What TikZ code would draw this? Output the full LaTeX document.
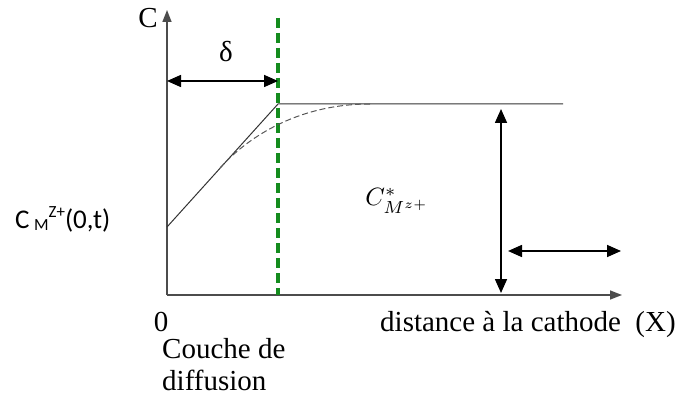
\documentclass[tikz,border=0pt]{standalone}
\usepackage{fontspec}
\setmainfont{Liberation Serif}
\newfontfamily\calibri{Carlito}
\usetikzlibrary{arrows.meta}
\definecolor{layergreen}{RGB}{20,140,30}
\tikzset{
	axis/.style={draw=black!70, line width=1.6pt},
	tip/.style={-{Triangle[length=12pt,width=9pt]}},
	twotip/.style={{Triangle[length=14pt,width=12pt]}-{Triangle[length=14pt,width=12pt]}, draw=black, line width=1.6pt},
	layer/.style={draw=layergreen, line width=3.4pt, dash pattern=on 10pt off 5pt},
	profile/.style={draw=black!80, line width=1pt},
	real/.style={draw=black!65, line width=1pt, dash pattern=on 6pt off 3pt},
	label/.style={font=\fontsize{29}{32}\selectfont, inner sep=0pt}
}

\begin{document}
\begin{tikzpicture}[x=1pt, y=-1pt]
	\useasboundingbox (0,0) rectangle (677,398);
	% --- axes ---
	\coordinate (O) at (167,295);
	\coordinate (ytip) at (167,10);
	\coordinate (xtip) at (622,295);
	\draw[axis, tip] (O) -- (ytip);
	\draw[axis, tip] (O) -- (xtip);
	\node[label] (C) at (148,18) {C};
	\node[label] (zero) at (161,322) {0};

	% --- diffusion layer ---
	\coordinate (ltop) at (278,18);
	\coordinate (lbot) at (278,295);
	\draw[layer] (ltop) -- (lbot);
	\coordinate (dleft) at (167,81);
	\coordinate (dright) at (278,81);
	\draw[twotip] (dleft) -- (dright);
	\node[label] (delta) at (226,52) {δ};

	% --- concentration profile ---
	\coordinate (surf) at (167,227);
	\coordinate (knee) at (278,104);
	\coordinate (bulk) at (563,104);
	\draw[profile] (surf) -- (knee) -- (bulk);
	\coordinate (cstart) at (220,168);
	\coordinate (cend) at (370,104);
	\draw[real] (cstart) .. controls (245,140) and (295,104) .. (cend);

	% --- bulk concentration ---
	\coordinate (vtop) at (501,109);
	\coordinate (vbot) at (501,293);
	\draw[twotip] (vtop) -- (vbot);
	\coordinate (hleft) at (508,251);
	\coordinate (hright) at (621,251);
	\draw[twotip] (hleft) -- (hright);
	\node[inner sep=0pt] (cbulk) at (397,201) {\scalebox{2.5}{$C^{*}_{M^{z+}}$}};

	% --- labels ---
	\node[anchor=base west, inner sep=0pt, font=\calibri\fontsize{27}{30}\selectfont] (csurf) at (15,228)
		{C\,{\fontsize{17}{19}\selectfont\raisebox{-2pt}{M}\raisebox{10pt}{Z+}}(0,t)};
	\node[label, anchor=north west, align=left] (couche) at (162,338) {Couche de\\diffusion};
	\node[label, anchor=base west] (dist) at (380,331) {distance à la cathode\ \ (X)};
\end{tikzpicture}
\end{document}
